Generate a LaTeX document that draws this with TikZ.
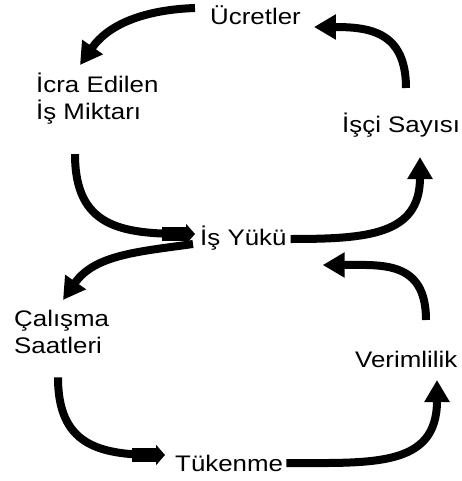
\documentclass[tikz,border=0pt]{standalone}
\usepackage{fontspec}
\setmainfont{Liberation Sans}[FakeStretch=1.15]
\usetikzlibrary{arrows.meta}
\tikzset{
	lbl/.style={font=\fontsize{22.5}{26.5}\selectfont, inner sep=0pt, align=left},
	flow/.style={line width=8pt, -{Triangle[length=22pt,width=24pt]}},
	pushflow/.style={line width=8pt, -{Rectangle[length=24pt,width=14pt]Triangle[length=9pt,width=20pt]}}
}
\begin{document}
\begin{tikzpicture}[x=1pt,y=1pt]
			\useasboundingbox (0,0) rectangle (462,-481);
			\node[lbl, anchor=base west]  (ucret)   at (210,-25)  {Ücretler};
			\node[lbl, anchor=north west] (icra)    at (36,-73)   {İcra Edilen\\İş Miktarı};
			\node[lbl, anchor=base west]  (isci)    at (342,-133) {İşçi Sayısı};
			\node[lbl, anchor=base west]  (isyuku)  at (200,-245) {İş Yükü};
			\node[lbl, anchor=north west] (calisma) at (14,-310)  {Çalışma\\Saatleri};
			\node[lbl, anchor=base west]  (verim)   at (355,-367) {Verimlilik};
			\node[lbl, anchor=base west]  (tukenme) at (175,-471) {Tükenme};
			\draw[flow] ([shift={(-15,17)}]ucret.base west) to[out=182,in=55] ([shift={(44,8)}]icra.north west);
			\draw[flow] ([shift={(64,45)}]isci.base west) to[out=90,in=0,looseness=1.3] ([shift={(13,-2)}]ucret.base east);
			\draw[pushflow] ([shift={(39,-30)}]icra.south west) to[out=-90,in=180,looseness=1.3] ([shift={(-5,11)}]isyuku.base west);
			\draw[flow] ([shift={(4,6)}]isyuku.base east) to[out=0,in=-90,looseness=1.3] ([shift={(78,-24)}]isci.base west);
			\draw[flow] ([shift={(-7,1)}]isyuku.base west) to[out=188,in=55] ([shift={(49,10)}]calisma.north west);
			\draw[flow] ([shift={(71,47)}]verim.base west) to[out=90,in=0,looseness=1.3] ([shift={(36,-20)}]isyuku.base east);
			\draw[pushflow] ([shift={(44,-24)}]calisma.south west) to[out=-90,in=180,looseness=1.3] ([shift={(-10,16)}]tukenme.base west);
			\draw[flow] ([shift={(3,8)}]tukenme.base east) to[out=0,in=-90,looseness=1.3] ([shift={(82,-13)}]verim.base west);
		\end{tikzpicture}
\end{document}
